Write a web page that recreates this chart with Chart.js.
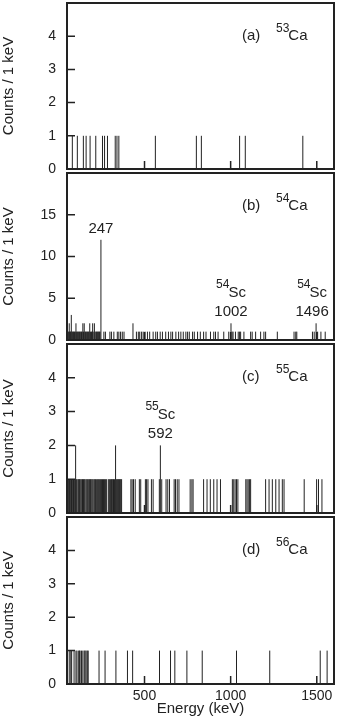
<!DOCTYPE html>
<html>
<head>
<meta charset="utf-8">
<script src="https://cdn.jsdelivr.net/npm/chart.js@4.4.1/dist/chart.umd.min.js"></script>
<style>
  html, body { margin: 0; padding: 0; background: #fff; }
  body { width: 338px; height: 721px; position: relative; overflow: hidden; }
  canvas { position: absolute; left: 0; }
</style>
</head>
<body>
<canvas id="ca" width="338" height="180" style="top:1px"></canvas>
<canvas id="cb" width="338" height="181" style="top:171px"></canvas>
<canvas id="cc" width="338" height="183" style="top:342px"></canvas>
<canvas id="cd" width="338" height="206" style="top:515px"></canvas>
<script>
// tick labels
const xTicks = [500, 1000, 1500];
const yTicksSmall = [0, 1, 2, 3, 4];
const yTicksB = [0, 5, 10, 15];

// (a) 53Ca - energies (keV) of bins with 1 count
const ca53Singles = [81, 110, 145, 161, 184, 217, 256, 268, 285, 330, 340, 351, 563, 801, 830, 1052, 1085, 1419];

// (b) 54Ca
const ca54Singles = [52, 56, 60, 66, 69, 72, 79, 83, 87, 90, 94, 98, 106, 110, 114, 118, 122, 126, 130, 134, 138,
  146, 154, 158, 162, 166, 170, 174, 178, 186, 192, 196, 202, 213, 218, 222, 226, 230, 234, 238, 242,
  264, 273, 299, 308, 322, 342, 351, 361, 371, 381, 453, 464, 472, 482, 492, 503, 517, 530, 550, 565, 575,
  591, 604, 623, 639, 653, 663, 682, 698, 711, 725, 740, 750, 760, 779, 789, 808, 824, 843, 857, 883, 902,
  912, 927, 960, 989, 1008, 1014, 1028, 1044, 1052, 1058, 1077, 1116, 1125, 1145, 1174, 1193, 1203, 1271,
  1368, 1378, 1384, 1475, 1485, 1505, 1524, 1549];
const ca54Multi = [63, 75, 102, 142, 150, 182, 199, 209, 247, 433, 1002, 1496];
const ca54MultiCounts = [2, 3, 2, 2, 2, 2, 2, 2, 12, 2, 2, 2];

// (c) 55Ca
const ca55Singles = [52, 56, 60, 64, 68, 72, 76, 80, 84, 88, 92, 96, 104, 108,
  114, 118, 122, 126, 131, 136, 140, 146, 150, 154, 160, 165, 170, 176, 180, 186, 190, 195, 200, 206, 211, 215,
  222, 228, 232, 238, 244, 250, 256, 262, 268, 274, 280, 290, 296, 302,
  308, 312, 316, 320, 326, 338, 342, 346, 350, 354, 358, 362, 367,
  421, 428, 436, 446, 470, 478, 505, 512, 520, 540, 550, 586, 600, 625, 635, 645,
  672, 680, 690, 700, 765, 775, 782, 843, 863, 882, 902, 921, 941,
  1010, 1018, 1026, 1034, 1042, 1088, 1095, 1102, 1110, 1116,
  1203, 1223, 1242, 1262, 1281, 1300, 1310, 1427, 1499, 1510, 1530];
const ca55Multi = [100, 332, 592];
const ca55MultiCounts = [2, 2, 2];

// (d) 56Ca
const ca56Singles = [63, 72, 77, 91, 102, 108, 118, 122, 126, 134, 142, 150, 155, 161, 168, 173, 236, 271, 334,
  401, 431, 587, 651, 676, 746, 835, 1034, 1227, 1520, 1560];

const FONT = '"Liberation Sans", Arial, Helvetica, sans-serif';
const INK = '#222';

function spikes(energies, counts) {
  let pts = [];
  energies.forEach((e, i) => {
    const c = counts ? counts[i] : 1;
    pts.push({x: e, y: 0}, {x: e, y: c}, {x: e, y: null});
  });
  return pts;
}

const framePlugin = {
  id: 'frame',
  afterDatasetsDraw(chart, args, opts) {
    const {ctx, chartArea: a, scales} = chart;
    ctx.save();
    ctx.strokeStyle = INK;
    ctx.lineWidth = 1.5;
    ctx.beginPath();
    scales.x.ticks.forEach(t => {
      const px = scales.x.getPixelForValue(t.value);
      ctx.moveTo(px, a.bottom);
      ctx.lineTo(px, a.bottom - 8);
    });
    scales.y.ticks.forEach(t => {
      const py = scales.y.getPixelForValue(t.value);
      ctx.moveTo(a.left, py);
      ctx.lineTo(a.left + 8, py);
    });
    ctx.stroke();
    ctx.lineWidth = 2;
    ctx.strokeRect(a.left, a.top, a.right - a.left, a.bottom - a.top);

    // panel label, e.g. (a) 53Ca
    ctx.fillStyle = INK;
    ctx.textAlign = 'left';
    ctx.textBaseline = 'alphabetic';
    const by = a.top + 37;
    ctx.font = '15px ' + FONT;
    ctx.fillText(opts.tag, a.right - 92, by);
    ctx.font = '12px ' + FONT;
    ctx.fillText(opts.iso, a.right - 58, by - 8);
    const wIso = ctx.measureText(opts.iso).width;
    ctx.font = '15px ' + FONT;
    ctx.fillText('Ca', a.right - 58 + wIso - 1, by);

    // peak labels
    (opts.peaks || []).forEach(p => {
      const cx = scales.x.getPixelForValue(p.e) + (p.dx || 0);
      const nb = scales.y.getPixelForValue(p.c) - 7;
      ctx.textAlign = 'center';
      ctx.font = '15px ' + FONT;
      ctx.fillText(p.text, cx, nb);
      if (p.sup) {
        ctx.textAlign = 'left';
        ctx.font = '12px ' + FONT;
        const ws = ctx.measureText(p.sup).width;
        ctx.font = '15px ' + FONT;
        const we = ctx.measureText(p.el).width;
        const x0 = cx - (ws + we - 1) / 2;
        const eb = nb - 19;
        ctx.fillText(p.el, x0 + ws - 1, eb);
        ctx.font = '12px ' + FONT;
        ctx.fillText(p.sup, x0, eb - 9);
      }
    });
    ctx.restore();
  }
};

function makePanel(id, datasets, yMax, yTicks, labelOpts, isLast) {
  return new Chart(document.getElementById(id), {
    type: 'scatter',
    data: {
      datasets: datasets.map(d => ({
        data: d,
        showLine: true,
        spanGaps: false,
        borderColor: INK,
        borderWidth: 1,
        pointRadius: 0,
        pointHoverRadius: 0
      }))
    },
    options: {
      responsive: false,
      animation: false,
      devicePixelRatio: 1,
      layout: {autoPadding: false, padding: {top: 2, right: 4, bottom: isLast ? 0 : 12, left: 0}},
      plugins: {
        legend: {display: false},
        tooltip: {enabled: false},
        frame: labelOpts
      },
      scales: {
        x: {
          type: 'linear',
          min: 50,
          max: 1600,
          grid: {display: false, drawTicks: false},
          border: {display: false},
          afterBuildTicks: s => { s.ticks = xTicks.map(v => ({value: v})); },
          afterFit: s => {
            s.height = isLast ? 37 : 0;
            s.paddingLeft = 0; s.paddingRight = 0; s.paddingTop = 0; s.paddingBottom = 0;
          },
          ticks: {
            display: isLast,
            color: INK,
            padding: 4,
            maxRotation: 0,
            callback: v => String(v),
            font: {family: FONT, size: 14}
          },
          title: {
            display: isLast,
            text: 'Energy (keV)',
            color: INK,
            padding: {top: 0, bottom: 3},
            font: {family: FONT, size: 15}
          }
        },
        y: {
          min: 0,
          max: yMax,
          grid: {display: false, drawTicks: false},
          border: {display: false},
          afterBuildTicks: s => { s.ticks = yTicks.map(v => ({value: v})); },
          afterFit: s => {
            s.width = 67;
            s.paddingLeft = 0; s.paddingRight = 0; s.paddingTop = 0; s.paddingBottom = 0;
          },
          ticks: {
            color: INK,
            padding: 11,
            callback: v => String(v),
            font: {family: FONT, size: 14}
          },
          title: {
            display: true,
            text: 'Counts / 1 keV',
            color: INK,
            padding: 0,
            font: {family: FONT, size: 15}
          }
        }
      }
    },
    plugins: [framePlugin]
  });
}

makePanel('ca', [spikes(ca53Singles)], 5, yTicksSmall, {tag: '(a)', iso: '53'}, false);
makePanel('cb', [spikes(ca54Singles), spikes(ca54Multi, ca54MultiCounts)], 20, yTicksB, {
  tag: '(b)', iso: '54',
  peaks: [
    {e: 247, c: 12, text: '247'},
    {e: 1002, c: 2, sup: '54', el: 'Sc', text: '1002'},
    {e: 1496, c: 2, sup: '54', el: 'Sc', text: '1496', dx: -4}
  ]
}, false);
makePanel('cc', [spikes(ca55Singles), spikes(ca55Multi, ca55MultiCounts)], 5, yTicksSmall, {
  tag: '(c)', iso: '55',
  peaks: [{e: 592, c: 2, sup: '55', el: 'Sc', text: '592'}]
}, false);
makePanel('cd', [spikes(ca56Singles)], 5, yTicksSmall, {tag: '(d)', iso: '56'}, true);
</script>
</body>
</html>
